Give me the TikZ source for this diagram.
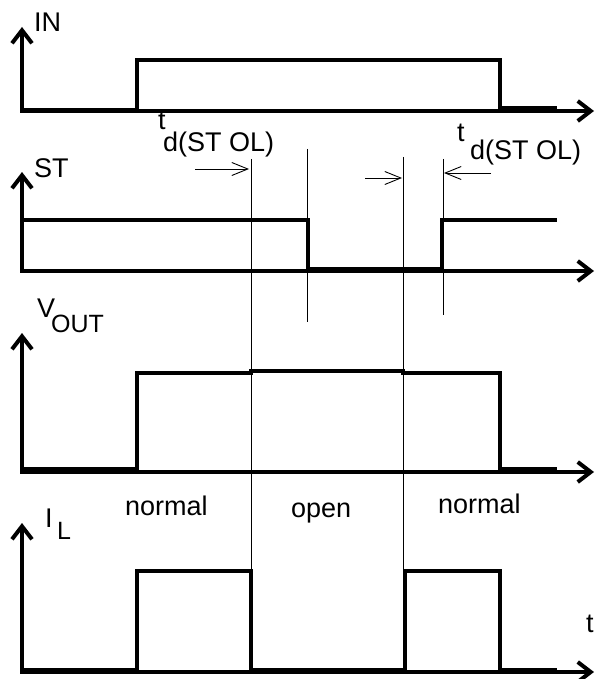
\documentclass[tikz,border=0pt]{standalone}
\usepackage{fontspec}
\setmainfont{Liberation Sans}
\usetikzlibrary{arrows.meta}
\begin{document}
\begin{tikzpicture}[x=1pt,y=-1pt,
  axis/.style={line width=4pt,-{Straight Barb[length=13pt,width=20pt]}},
  sig/.style={line width=4pt,line join=miter},
  guide/.style={line width=0.9pt},
  dly/.style={line width=0.9pt,-{Straight Barb[length=16pt,width=13pt]}},
  lbl/.style={inner sep=0pt,anchor=base west,font=\fontsize{27}{31}\selectfont},
  sublbl/.style={inner sep=0pt,anchor=base west,font=\fontsize{25}{29}\selectfont}]
\useasboundingbox (0,0) rectangle (595,679);
% IN
\draw[axis] (22,111) -- (22,27);
\draw[axis] (20,111) -- (594,111);
\draw[sig] (22,110) -- (137,110) -- (137,60) -- (500,60) -- (500,108) -- (557,108);
\node[lbl] (lin) at (34,32) {IN};
% ST
\draw[axis] (22,271) -- (22,172);
\draw[axis] (20,271) -- (594,271);
\draw[sig] (22,220) -- (308,220) -- (308,269) -- (442,269) -- (442,220) -- (557,220);
\node[lbl] (lst) at (34,177) {ST};
% VOUT
\draw[axis] (22,472) -- (22,333);
\draw[axis] (20,472) -- (594,472);
\draw[sig] (22,469) -- (137,469) -- (137,373) -- (251,373) -- (251,371) -- (403,371) -- (403,373) -- (500,373) -- (500,469) -- (557,469);
\node[lbl] (lv) at (37,317) {V};
\node[sublbl] (lvout) at (51,332) {OUT};
% IL
\draw[axis] (22,672) -- (22,523);
\draw[axis] (20,672) -- (594,672);
\draw[sig] (22,670) -- (137,670) -- (137,571) -- (251,571) -- (251,670) -- (405,670) -- (405,571) -- (500,571) -- (500,670) -- (557,670);
\node[lbl] (li) at (45,527) {I};
\node[sublbl] (lil) at (57,539) {L};
% guide lines
\coordinate (g1t) at (251,159); \coordinate (g1b) at (251,571);
\coordinate (g2t) at (307,149); \coordinate (g2b) at (307,322);
\coordinate (g3t) at (403,157); \coordinate (g3b) at (403,571);
\coordinate (g4t) at (443,159); \coordinate (g4b) at (443,315);
\draw[guide] (g1t) -- (g1b);
\draw[guide] (g2t) -- (g2b);
\draw[guide] (g3t) -- (g3b);
\draw[guide] (g4t) -- (g4b);
% delay arrows
\coordinate (a1s) at (195,169); \coordinate (a1e) at (249,169);
\coordinate (a2s) at (365,178); \coordinate (a2e) at (402,178);
\coordinate (a3s) at (491,173); \coordinate (a3e) at (444,173);
\draw[dly] (a1s) -- (a1e);
\draw[dly] (a2s) -- (a2e);
\draw[dly] (a3s) -- (a3e);
% delay labels
\node[lbl] (t1) at (158,130) {t};
\node[lbl] (d1) at (163,152) {d(ST OL)};
\node[lbl] (t2) at (457,142) {t};
\node[lbl] (d2) at (470,160) {d(ST OL)};
% state labels
\node[lbl] (n1) at (125,515) {normal};
\node[lbl] (op) at (291,517) {open};
\node[lbl] (n2) at (438,513) {normal};
\node[lbl] (tt) at (586,632) {t};
\end{tikzpicture}
\end{document}
